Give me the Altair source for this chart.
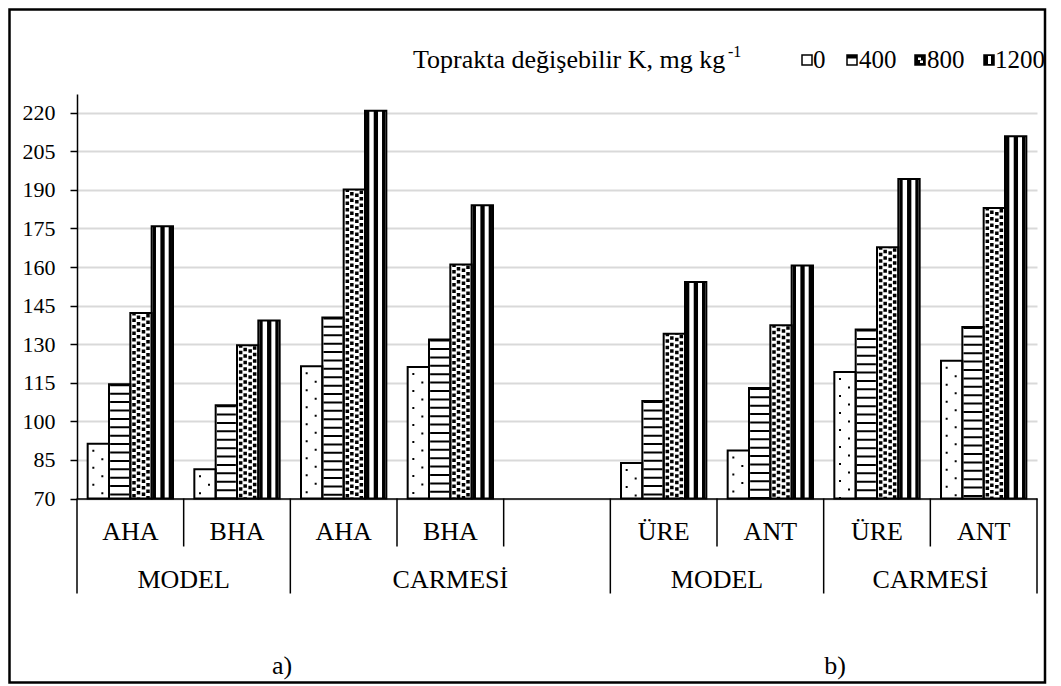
import altair as alt
import pandas as pd

# ---------------- data ----------------
categories = ["AHA", "BHA", "AHA", "BHA", "", "ÜRE", "ANT", "ÜRE", "ANT"]
groups = ["MODEL", "MODEL", "CARMESİ", "CARMESİ", "CARMESİ", "MODEL", "MODEL", "CARMESİ", "CARMESİ"]
series_names = ["0", "400", "800", "1200"]
k0 = [91.3, 81.4, 121.4, 121.1, None, 83.8, 88.7, 119.2, 123.6]
k400 = [114.4, 106.3, 140.4, 131.8, None, 107.9, 113.0, 135.7, 136.7]
k800 = [142.1, 129.6, 190.2, 161.0, None, 134.1, 137.4, 167.7, 183.0]
k1200 = [175.9, 139.2, 220.8, 184.0, None, 154.2, 160.6, 194.2, 210.9]
y_ticks = [70, 85, 100, 115, 130, 145, 160, 175, 190, 205, 220]
panel_labels = ["a)", "b)"]
legend_title = "Toprakta değişebilir K, mg kg"
legend_sup = "-1"

FONT = "Liberation Serif"
N = len(categories)
W, H = 960, 404.5
PAD = {"left": 69, "top": 86, "right": 16, "bottom": 185.5}
Y_MIN, Y_MAX = 70, 227.3

rows = []
for si, vals in enumerate([k0, k400, k800, k1200]):
    for ci, v in enumerate(vals):
        if v is None:
            continue
        rows.append({"slot": ci, "sidx": si, "series": series_names[si], "value": v})
bars = pd.DataFrame(rows)

xscale = alt.Scale(domain=[0, N], nice=False, zero=False)
yscale = alt.Scale(domain=[Y_MIN, Y_MAX], nice=False, zero=False)

x_axis = alt.Axis(labels=False, ticks=False, grid=False, domain=True,
                  domainColor="black", domainWidth=1.5, title=None)
y_axis = alt.Axis(values=y_ticks, labelFont=FONT, labelFontSize=22, labelColor="black",
                  labelPadding=15, tickColor="black", tickSize=7, tickWidth=1.5,
                  domainColor="black", domainWidth=1.5,
                  gridColor="#d9d9d9", gridWidth=2, title=None)

base = alt.Chart(bars).transform_calculate(
    x0="datum.slot + 0.1 + 0.2 * datum.sidx",
    x1="datum.slot + 0.3 + 0.2 * datum.sidx",
    xc="datum.slot + 0.2 + 0.2 * datum.sidx",
    base=str(Y_MIN),
)

# white bar bodies + axes
fill = base.mark_rect(fill="white").encode(
    x=alt.X("x0:Q", scale=xscale, axis=x_axis),
    x2="x1:Q",
    y=alt.Y("value:Q", scale=yscale, axis=y_axis),
    y2="base:Q",
)


def pat(sidx, offset, width, dash=None, dash_offset=0):
    kw = dict(color="black", strokeWidth=width, xOffset=offset, strokeCap="butt")
    if dash is not None:
        kw["strokeDash"] = dash
        kw["strokeDashOffset"] = dash_offset
    return base.transform_filter(alt.datum.sidx == sidx).mark_rule(**kw).encode(
        x=alt.X("xc:Q", scale=xscale, axis=x_axis),
        y=alt.Y("value:Q", scale=yscale, axis=y_axis),
        y2="base:Q",
    )


patterns = [
    # 0 : sparse dots
    pat(0, -5, 2, [2, 15], -6),
    pat(0, 4, 2, [2, 15], -14.5),
    # 400 : horizontal stripes
    pat(1, 0, 19, [2, 6.4], 0),
    # 800 : dotted confetti
    pat(2, -7, 3.5, [3.5, 3], 1),
    pat(2, -2.5, 3.5, [3.5, 3], 4),
    pat(2, 2.5, 3.5, [3.5, 3], 2.5),
    pat(2, 7, 3.5, [3.5, 3], 5.5),
    # 1200 : vertical stripes
    pat(3, -8, 3.3),
    pat(3, 0.2, 4.3),
    pat(3, 8, 3.3),
]

outline = base.mark_rect(fill="transparent", stroke="black", strokeWidth=2).encode(
    x=alt.X("x0:Q", scale=xscale, axis=x_axis),
    x2="x1:Q",
    y=alt.Y("value:Q", scale=yscale, axis=y_axis),
    y2="base:Q",
)

# ---------------- category axis (two levels) ----------------
seps = []
for i in range(N + 1):
    full = i == 0 or i == N or groups[i] != groups[i - 1]
    seps.append({"pos": i, "full": full})
sep_df = pd.DataFrame(seps)

sep_short = alt.Chart(sep_df).transform_filter("!datum.full").mark_rule(color="black", strokeWidth=1.5).encode(
    x=alt.X("pos:Q", scale=xscale, axis=x_axis), y=alt.value(H), y2=alt.value(H + 48))
sep_long = alt.Chart(sep_df).transform_filter("datum.full").mark_rule(color="black", strokeWidth=1.5).encode(
    x=alt.X("pos:Q", scale=xscale, axis=x_axis), y=alt.value(H), y2=alt.value(H + 95))

cat_df = pd.DataFrame({"cat": categories, "pos": [i + 0.5 for i in range(N)]})
cat_text = alt.Chart(cat_df).mark_text(font=FONT, fontSize=26, color="black", baseline="alphabetic").encode(
    x=alt.X("pos:Q", scale=xscale, axis=x_axis), y=alt.value(H + 41.5), text="cat:N")

spans = []
start = 0
for i in range(1, N + 1):
    if i == N or groups[i] != groups[i - 1]:
        spans.append({"grp": groups[start], "pos": (start + i) / 2})
        start = i
grp_df = pd.DataFrame(spans)
grp_text = alt.Chart(grp_df).mark_text(font=FONT, fontSize=26, color="black", baseline="alphabetic").encode(
    x=alt.X("pos:Q", scale=xscale, axis=x_axis), y=alt.value(H + 89), text="grp:N")

one = pd.DataFrame({"k": [0]})


def vtext(txt, x, y, size, align="left"):
    return alt.Chart(one).mark_text(text=txt, font=FONT, fontSize=size, color="black",
                                    align=align, baseline="alphabetic").encode(
        x=alt.value(x), y=alt.value(y))


def vrect(x, x2, y, y2, **mk):
    return alt.Chart(one).mark_rect(**mk).encode(
        x=alt.value(x), x2=alt.value(x2), y=alt.value(y), y2=alt.value(y2))


panel_layers = [vtext(panel_labels[0], 205, 580, 26, "center"),
                vtext(panel_labels[1], 758, 580, 26, "center")]

# ---------------- legend ----------------
ly0, ly1 = -39, -29
legend_layers = [
    vtext(legend_title, 336, -26.5, 26),
    vtext(legend_sup, 651, -37, 16),
    # 0
    vrect(725, 735, ly0, ly1, fill="white", stroke="black", strokeWidth=1.5),
    vtext(series_names[0], 736, -26.5, 25),
    # 400
    vrect(770, 780, ly0, ly1, fill="white", stroke="black", strokeWidth=1.5),
    vrect(770, 780, ly0, ly0 + 3.5, fill="black"),
    vtext(series_names[1], 782, -26.5, 25),
    # 800
    vrect(838, 848, ly0, ly1, fill="black", stroke="black", strokeWidth=1.5),
    vrect(841, 844, ly0 + 2.5, ly0 + 5, fill="white"),
    vrect(843, 846, ly0 + 5.5, ly0 + 8, fill="white"),
    vtext(series_names[2], 850, -26.5, 25),
    # 1200
    vrect(907, 917, ly0, ly1, fill="black", stroke="black", strokeWidth=1.5),
    vrect(911, 914, ly0 + 1, ly1 - 1, fill="white"),
    vtext(series_names[3], 918, -26.5, 25),
]

frame = vrect(-67.5, W + PAD["right"] - 8, -84.5, H + PAD["bottom"] - 1.5,
              fill="transparent", stroke="black", strokeWidth=2.5)

chart = alt.layer(
    fill, *patterns, outline, sep_short, sep_long, cat_text, grp_text,
    *panel_layers, *legend_layers, frame,
).properties(
    width=W, height=H,
    autosize=alt.AutoSizeParams(type="none"),
    padding=PAD,
    background="white",
).configure_view(strokeWidth=0)

chart.save("out.html", embed_options={"renderer": "svg", "actions": False})
